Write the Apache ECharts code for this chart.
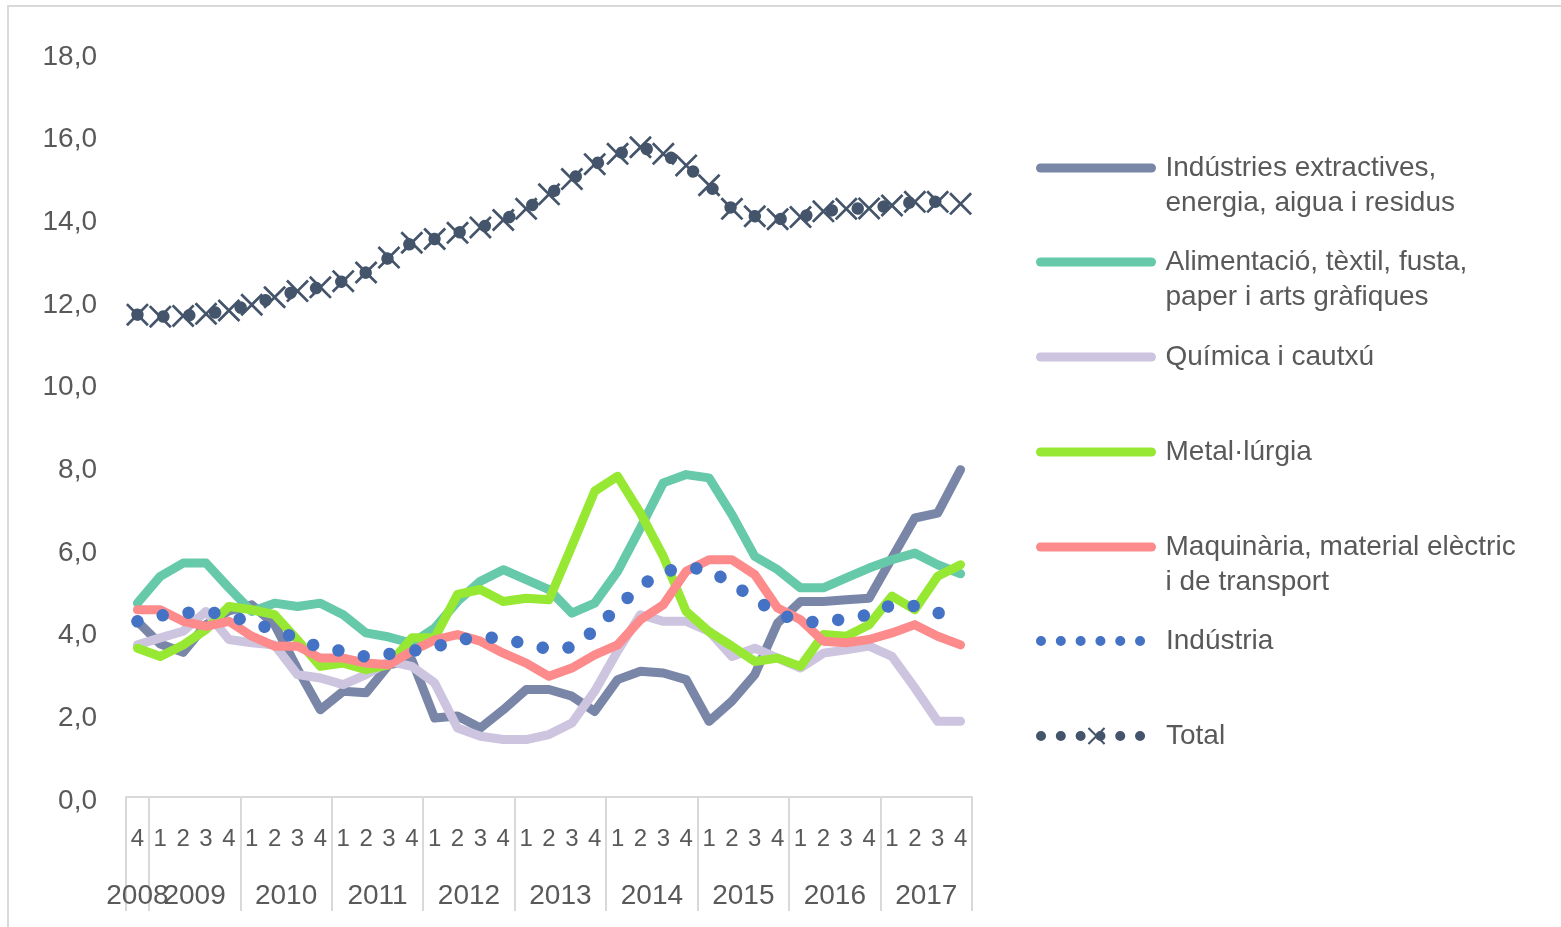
<!DOCTYPE html>
<html>
<head>
<meta charset="utf-8">
<title>Indústria</title>
<script src="https://cdn.jsdelivr.net/npm/echarts@6/dist/echarts.min.js"></script>
<style>
  html, body { margin: 0; padding: 0; background: #fff; }
  #frame {
    position: absolute; left: 7px; top: 5px; width: 1560px; height: 930px;
    border-top: 2px solid #d9d9d9; border-left: 2px solid #d9d9d9;
  }
  #chart { position: absolute; left: 0; top: 0; width: 1561px; height: 927px; }
</style>
</head>
<body>
<div id="frame"></div>
<div id="chart"></div>
<script>
// periodes (any trimestre)
var periods = [
  '2008 4',
  '2009 1', '2009 2', '2009 3', '2009 4',
  '2010 1', '2010 2', '2010 3', '2010 4',
  '2011 1', '2011 2', '2011 3', '2011 4',
  '2012 1', '2012 2', '2012 3', '2012 4',
  '2013 1', '2013 2', '2013 3', '2013 4',
  '2014 1', '2014 2', '2014 3', '2014 4',
  '2015 1', '2015 2', '2015 3', '2015 4',
  '2016 1', '2016 2', '2016 3', '2016 4',
  '2017 1', '2017 2', '2017 3', '2017 4'
]

var extractives = [4.25, 3.7, 3.5, 4.17, 4.5, 4.65, 4.17, 3.1, 2.11, 2.56, 2.52, 3.2, 3.32, 1.91, 1.96, 1.67, 2.11, 2.6, 2.6,
  2.44, 2.07, 2.84, 3.04, 3.0, 2.84, 1.83, 2.32, 2.96, 4.21, 4.73, 4.73, 4.77, 4.81, 5.78, 6.75, 6.87, 7.92]
var alimentacio = [4.69, 5.34, 5.66, 5.66, 5.06, 4.49, 4.69, 4.61, 4.69, 4.41, 3.97, 3.87, 3.72, 4.09, 4.73, 5.22, 5.5, 5.26, 5.02,
  4.45, 4.69, 5.46, 6.51, 7.6, 7.8, 7.72, 6.83, 5.82, 5.5, 5.06, 5.06, 5.3, 5.54, 5.74, 5.9, 5.62, 5.4]
var quimica = [3.68, 3.85, 4.01, 4.49, 3.81, 3.73, 3.68, 2.96, 2.88, 2.72, 2.96, 3.28, 3.16, 2.76, 1.67, 1.47, 1.39, 1.39, 1.51,
  1.79, 2.56, 3.53, 4.41, 4.25, 4.25, 4.01, 3.4, 3.6, 3.36, 3.12, 3.48, 3.56, 3.65, 3.4, 2.64, 1.83, 1.83]
var metallurgia = [3.6, 3.4, 3.68, 4.05, 4.61, 4.53, 4.41, 3.8, 3.16, 3.24, 3.08, 3.2, 3.85, 3.85, 4.9, 5.02, 4.73, 4.81, 4.77,
  6.07, 7.4, 7.76, 6.87, 5.82, 4.49, 4.0, 3.65, 3.28, 3.36, 3.16, 3.93, 3.89, 4.17, 4.86, 4.53, 5.34, 5.62]
var maquinaria = [4.53, 4.53, 4.25, 4.13, 4.25, 3.89, 3.65, 3.65, 3.36, 3.36, 3.24, 3.2, 3.53, 3.8, 3.93, 3.77, 3.48, 3.24, 2.92,
  3.12, 3.44, 3.68, 4.29, 4.65, 5.46, 5.74, 5.74, 5.38, 4.57, 4.29, 3.77, 3.73, 3.81, 3.97, 4.17, 3.89, 3.68]
var industria = [4.25, 4.39, 4.45, 4.49, 4.39, 4.21, 4.05, 3.83, 3.61, 3.53, 3.39, 3.46, 3.53, 3.63, 3.79, 3.88, 3.83, 3.7, 3.58,
  3.62, 4.04, 4.59, 5.11, 5.44, 5.57, 5.48, 5.17, 4.78, 4.44, 4.25, 4.22, 4.32, 4.41, 4.65, 4.62, 4.46, 4.3]
var total = [11.67, 11.62, 11.64, 11.69, 11.77, 11.91, 12.09, 12.24, 12.33, 12.48, 12.69, 13.05, 13.41, 13.5, 13.65, 13.78, 13.96,
  14.23, 14.58, 14.95, 15.31, 15.56, 15.72, 15.56, 15.28, 14.8, 14.23, 14.05, 13.98, 14.03, 14.17, 14.23, 14.24, 14.31, 14.4, 14.4, 14.35]

var names = [
  'Indústries extractives,\nenergia, aigua i residus',
  'Alimentació, tèxtil, fusta,\npaper i arts gràfiques',
  'Química i cautxú',
  'Metal·lúrgia',
  'Maquinària, material elèctric\ni de transport',
  'Indústria',
  'Total'
]
var colors = ['#7a86a8', '#66c9a9', '#cdc4df', '#97e832', '#fd8b8b', '#4472c4', '#44546a']

var font = 'Liberation Sans'
var textColor = '#595959'
var crossPath = 'path://M2,0L12,10L22,0L24,2L14,12L24,22L22,24L12,14L2,24L0,22L10,12L0,2Z'

// trimestres i anys a partir dels periodes
var quarterLabels = periods.map(function (p) { return p.split(' ')[1] })
var yearBounds = []
var yearCenters = []
var yearByCenter = {}
periods.forEach(function (p, i) {
  var y = p.split(' ')[0]
  if (i === 0 || periods[i - 1].split(' ')[0] !== y) {
    yearBounds.push(i)
    var last = i
    while (last + 1 < periods.length && periods[last + 1].split(' ')[0] === y) last++
    var c = (i + last + 1) / 2
    yearCenters.push(c)
    yearByCenter[c] = y
  }
})
yearBounds.push(periods.length)

function lineSeries (idx, data) {
  return {
    name: names[idx],
    type: 'line',
    data: data,
    symbol: 'none',
    silent: true,
    color: colors[idx],
    lineStyle: { color: colors[idx], width: 9, cap: 'round', join: 'round' }
  }
}

var series = [
  lineSeries(0, extractives),
  lineSeries(1, alimentacio),
  lineSeries(2, quimica),
  lineSeries(3, metallurgia),
  lineSeries(4, maquinaria),
  {
    name: names[5],
    type: 'line',
    data: industria,
    symbol: 'none',
    silent: true,
    color: colors[5],
    lineStyle: { color: colors[5], width: 12.5, type: [0.01, 26], cap: 'round', join: 'round' }
  },
  {
    name: names[6],
    type: 'line',
    data: total,
    symbol: crossPath,
    symbolSize: 23,
    showSymbol: true,
    showAllSymbol: true,
    silent: true,
    color: colors[6],
    itemStyle: { color: colors[6] },
    lineStyle: { color: colors[6], width: 12.5, type: [0.01, 26], cap: 'round', join: 'round' }
  }
]

// una llegenda per element, per poder-les situar com a l'original
var legendCenters = [168, 262, 357, 452, 547, 641, 736]
var legends = names.map(function (n, i) {
  var twoLines = n.indexOf('\n') >= 0
  var isTotal = i === 6
  var dotted = i >= 5
  return {
    data: [n],
    left: 1036,
    top: legendCenters[i] - (twoLines ? 52.5 : 17.5),
    padding: 0,
    selectedMode: false,
    itemWidth: 111,
    itemHeight: isTotal ? 22 : 9,
    // una linia en blanc al davant perque la primera linia quedi a l'altura del simbol
    formatter: function (name) { return twoLines ? ' \n' + name : name },
    textStyle: {
      fontFamily: font,
      fontSize: 28,
      lineHeight: 35,
      color: textColor,
      padding: [0, 0, 0, 9]
    },
    lineStyle: dotted
      ? { width: 10, type: [0.01, 19.8], cap: 'round' }
      : { width: 9, cap: 'round' },
    itemStyle: isTotal ? {} : { opacity: 0 }
  }
})

// eix auxiliar per als anys (etiqueta al centre de cada grup, separadors als limits)
function yearAxis (centers, withTicks) {
  return {
    type: 'value',
    position: 'bottom',
    min: 0,
    max: periods.length,
    axisLine: { show: false },
    splitLine: { show: false },
    axisTick: {
      show: withTicks,
      customValues: yearBounds,
      length: 114,
      lineStyle: { color: '#d9d9d9', width: 2 }
    },
    axisLabel: {
      customValues: centers,
      hideOverlap: false,
      formatter: function (v) { return yearByCenter[v] || '' },
      margin: 85,
      fontFamily: font,
      fontSize: 28,
      color: textColor
    }
  }
}

var option = {
  animation: false,
  backgroundColor: 'transparent',
  grid: { left: 126, right: 589, top: 53, bottom: 130, containLabel: false },
  legend: legends,
  xAxis: [
    {
      type: 'category',
      position: 'bottom',
      data: quarterLabels,
      boundaryGap: true,
      axisLine: { show: true, lineStyle: { color: '#d9d9d9', width: 2 } },
      axisTick: { show: false },
      axisLabel: { interval: 0, margin: 30, fontFamily: font, fontSize: 24, color: textColor }
    },
    yearAxis(yearCenters.slice(1), true),
    yearAxis(yearCenters.slice(0, 1), false)
  ],
  yAxis: {
    type: 'value',
    min: 0,
    max: 18,
    interval: 2,
    axisLine: { show: false },
    axisTick: { show: false },
    splitLine: { show: false },
    axisLabel: {
      margin: 29,
      formatter: function (v) { return '{v|' + v.toFixed(1).replace('.', ',') + '}' },
      rich: {
        v: { fontFamily: font, fontSize: 28, color: textColor, padding: [8, 0, 0, 0] }
      }
    }
  },
  series: series
}

var myChart = echarts.init(document.getElementById('chart'), null, { renderer: 'canvas' })
myChart.setOption(option)
</script>
</body>
</html>
